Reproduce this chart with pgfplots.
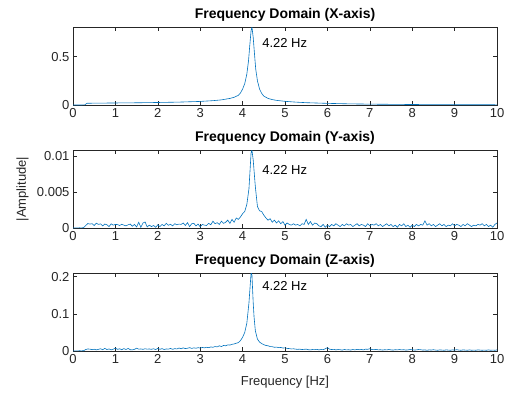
\documentclass[border=0pt]{standalone}
\usepackage{pgfplots}
\pgfplotsset{compat=1.18}
\usepackage{fontspec}
\setmainfont{Liberation Sans}
\definecolor{mblue}{rgb}{0,0.447,0.741}
\definecolor{axgray}{gray}{0.15}
\pgfplotsset{mstyle/.style={
  scale only axis, width=424pt, height=78pt, anchor=south west,
  xmin=0, xmax=10, ymin=0, xtick={0,1,...,10},
  tick align=inside, major tick length=4pt,
  scaled y ticks=false, scaled x ticks=false,
  axis line style={axgray, line width=0.5pt},
  every tick/.style={axgray, line width=0.5pt},
  ticklabel style={font=\fontsize{13}{15}\selectfont, text=axgray},
  /pgf/number format/assume math mode=true,
  title style={font=\bfseries\fontsize{14}{16}\selectfont, yshift=-4pt},
}}
\newcommand{\annfont}{\fontsize{13}{15}\selectfont}
\begin{document}
\begin{tikzpicture}
\path[use as bounding box] (0,0) rectangle (508pt,392pt);
% X axis
\begin{axis}[mstyle, at={(73pt,287pt)}, ymax=0.807, ytick={0,0.5}, yticklabels={0,0.5},
  title={Frequency Domain (X-axis)}]
\addplot[mblue, line width=0.6pt, mark=none] coordinates {
(0,0) (0.1,0) (0.2,0) (0.28,0.002) (0.33,0.018) (0.5,0.019) (1,0.021) (1.5,0.023)
(2,0.026) (2.5,0.030) (3,0.037) (3.3,0.045) (3.5,0.053) (3.7,0.068) (3.8,0.080)
(3.9,0.10) (3.95,0.125) (4.0,0.165) (4.05,0.22) (4.1,0.32) (4.14,0.46) (4.17,0.62)
(4.2,0.77) (4.22,0.807) (4.25,0.70) (4.28,0.53) (4.31,0.37) (4.35,0.25) (4.4,0.165)
(4.45,0.12) (4.5,0.092) (4.6,0.068) (4.7,0.056) (4.8,0.048) (5,0.038) (5.25,0.030)
(5.5,0.024) (6,0.017) (6.5,0.012) (7,0.009) (7.5,0.007) (8,0.005) (8.5,0.004)
(9,0.003) (9.5,0.003) (10,0.002)
};
\node[anchor=west, inner sep=0pt, font=\annfont] at (axis cs:4.46,0.641) {4.22 Hz};
\end{axis}
% Y axis
\begin{axis}[mstyle, at={(73pt,164pt)}, ymax=0.0109, ytick={0,0.005,0.01}, yticklabels={0,0.005,0.01},
  title={Frequency Domain (Y-axis)}, ylabel={|Amplitude|},
  ylabel style={at={(axis description cs:-0.119,0.5)}, anchor=center, font=\fontsize{13}{15}\selectfont, text=axgray}]
\addplot[mblue, line width=0.6pt, mark=none] coordinates {
(0,0) (0.05,0.00002) (0.1,0.00002) (0.15,0.00003) (0.2,0.00002) (0.25,0.00004)
(0.3,0.00035) (0.35,0.00062) (0.4,0.00055) (0.45,0.00060) (0.5,0.00035) (0.55,0.00068)
(0.6,0.00050) (0.65,0.00058) (0.7,0.00030) (0.75,0.00055) (0.8,0.00045) (0.85,0.00020)
(0.9,0.00058) (0.95,0.00040) (1.0,0.00050) (1.05,0.00048) (1.1,0.00035) (1.15,0.00052)
(1.2,0.00040) (1.25,0.00030) (1.3,0.00045) (1.35,0.00055) (1.4,0.00025) (1.45,0.00050)
(1.5,0.00015) (1.55,0.00080) (1.6,0.00010) (1.65,0.00070) (1.7,0.00085) (1.75,0.00015)
(1.8,0.00040) (1.85,0.00020) (1.9,0.00035) (1.95,0.00010) (2.0,0.00045) (2.05,0.00020)
(2.1,0.00050) (2.15,0.00030) (2.2,0.00065) (2.25,0.00038) (2.3,0.00052) (2.35,0.00030)
(2.4,0.00060) (2.45,0.00045) (2.5,0.00055) (2.55,0.00050) (2.6,0.00070) (2.65,0.00035)
(2.7,0.00075) (2.75,0.00020) (2.8,0.00060) (2.85,0.00065) (2.9,0.00030) (2.95,0.00055)
(3.0,0.00015) (3.05,0.00050) (3.1,0.00040) (3.15,0.00035) (3.2,0.00065) (3.25,0.00045)
(3.3,0.00095) (3.35,0.00060) (3.4,0.00075) (3.45,0.00050) (3.5,0.00095) (3.55,0.00065)
(3.6,0.00080) (3.65,0.00110) (3.7,0.00065) (3.75,0.00120) (3.8,0.00080) (3.85,0.00140)
(3.9,0.00120) (3.95,0.00155) (4.0,0.00200) (4.05,0.00230) (4.1,0.00330) (4.15,0.00550)
(4.2,0.0105) (4.22,0.0109) (4.25,0.0095) (4.3,0.0058) (4.35,0.0030) (4.4,0.0024)
(4.45,0.0023) (4.5,0.0018) (4.55,0.0014) (4.6,0.0011) (4.65,0.0013) (4.7,0.0008)
(4.75,0.0011) (4.8,0.0007) (4.85,0.0010) (4.9,0.0006) (4.95,0.0009) (5.0,0.0004)
(5.05,0.0007) (5.1,0.0005) (5.15,0.0004) (5.2,0.0006) (5.25,0.0004) (5.3,0.0005)
(5.35,0.0003) (5.4,0.0006) (5.45,0.0005) (5.5,0.0012) (5.55,0.0005) (5.6,0.0009)
(5.65,0.0004) (5.7,0.0007) (5.75,0.0006) (5.8,0.0003) (5.85,0.0002) (5.9,0.0005)
(5.95,0.0001) (6.0,0.0004) (6.05,0.0002) (6.1,0.0005) (6.15,0.0003) (6.2,0.0006)
(6.25,0.0004) (6.3,0.0002) (6.35,0.0005) (6.4,0.0003) (6.45,0.0006) (6.5,0.0004)
(6.55,0.0005) (6.6,0.0002) (6.65,0.0004) (6.7,0.0006) (6.75,0.0003) (6.8,0.0005)
(6.85,0.0004) (6.9,0.0002) (6.95,0.0006) (7.0,0.0003) (7.05,0.0005) (7.1,0.0004)
(7.15,0.0006) (7.2,0.0003) (7.25,0.0005) (7.3,0.0002) (7.35,0.0004) (7.4,0.0006)
(7.45,0.0003) (7.5,0.0005) (7.55,0.0002) (7.6,0.0004) (7.65,0.0001) (7.7,0.0005)
(7.75,0.0003) (7.8,0.0006) (7.85,0.0002) (7.9,0.0004) (7.95,0.0001) (8.0,0.0004)
(8.05,0.0002) (8.1,0.0005) (8.15,0.0003) (8.2,0.0005) (8.25,0.0004) (8.3,0.0010)
(8.35,0.0004) (8.4,0.0006) (8.45,0.0003) (8.5,0.0005) (8.55,0.0002) (8.6,0.0004)
(8.65,0.0006) (8.7,0.0003) (8.75,0.0005) (8.8,0.0002) (8.85,0.0004) (8.9,0.0003)
(8.95,0.0006) (9.0,0.0003) (9.05,0.0005) (9.1,0.0004) (9.15,0.0002) (9.2,0.0005)
(9.25,0.0003) (9.3,0.0006) (9.35,0.0004) (9.4,0.0002) (9.45,0.0004) (9.5,0.0003)
(9.55,0.0005) (9.6,0.0004) (9.65,0.0006) (9.7,0.0003) (9.75,0.0005) (9.8,0.0002)
(9.85,0.0004) (9.9,0.0001) (9.95,0.0005) (10.0,0.0007)
};
\node[anchor=west, inner sep=0pt, font=\annfont] at (axis cs:4.46,0.0081) {4.22 Hz};
\end{axis}
% Z axis
\begin{axis}[mstyle, at={(73pt,41pt)}, ymax=0.21, ytick={0,0.1,0.2}, yticklabels={0,0.1,0.2},
  title={Frequency Domain (Z-axis)}, xlabel={Frequency [Hz]},
  xlabel style={at={(axis description cs:0.5,-0.397)}, anchor=center, font=\fontsize{13}{15}\selectfont, text=axgray}]
\addplot[mblue, line width=0.6pt, mark=none] coordinates {
(0,0) (0.05,0.0005) (0.1,0.0004) (0.15,0.0006) (0.2,0.0005) (0.25,0.0007)
(0.3,0.0040) (0.35,0.0055) (0.4,0.0050) (0.45,0.0035) (0.5,0.0048) (0.55,0.0030)
(0.6,0.0045) (0.65,0.0060) (0.7,0.0035) (0.75,0.0070) (0.8,0.0040) (0.85,0.0055)
(0.9,0.0030) (0.95,0.0050) (1.0,0.0075) (1.05,0.0045) (1.1,0.0060) (1.15,0.0035)
(1.2,0.0065) (1.25,0.0040) (1.3,0.0070) (1.35,0.0035) (1.4,0.0030) (1.45,0.0045)
(1.5,0.0075) (1.55,0.0050) (1.6,0.0055) (1.65,0.0045) (1.7,0.0060) (1.75,0.0050)
(1.8,0.0055) (1.85,0.0045) (1.9,0.0060) (1.95,0.0040) (2.0,0.0070) (2.05,0.0045)
(2.1,0.0065) (2.15,0.0040) (2.2,0.0055) (2.25,0.0050) (2.3,0.0070) (2.35,0.0045)
(2.4,0.0065) (2.45,0.0055) (2.5,0.0080) (2.55,0.0060) (2.6,0.0085) (2.65,0.0065)
(2.7,0.0075) (2.75,0.0090) (2.8,0.0070) (2.85,0.0085) (2.9,0.0075) (2.95,0.0090)
(3.0,0.0080) (3.05,0.0095) (3.1,0.0085) (3.15,0.0100) (3.2,0.0090) (3.25,0.0110)
(3.3,0.0100) (3.35,0.0120) (3.4,0.0110) (3.45,0.0140) (3.5,0.0120) (3.55,0.0150)
(3.6,0.0140) (3.65,0.0165) (3.7,0.0160) (3.75,0.0180) (3.8,0.0190) (3.85,0.0210)
(3.9,0.0225) (3.95,0.0280) (4.0,0.0370) (4.05,0.0500) (4.1,0.0750) (4.15,0.1300)
(4.2,0.2100) (4.22,0.2050) (4.25,0.1300) (4.27,0.0920) (4.3,0.0550) (4.35,0.0320)
(4.4,0.0240) (4.45,0.0200) (4.5,0.0170) (4.55,0.0150) (4.6,0.0140) (4.65,0.0120)
(4.7,0.0115) (4.75,0.0100) (4.8,0.0105) (4.85,0.0090) (4.9,0.0095) (4.95,0.0080)
(5.0,0.0085) (5.05,0.0070) (5.1,0.0065) (5.15,0.0055) (5.2,0.0060) (5.25,0.0050)
(5.3,0.0045) (5.35,0.0050) (5.4,0.0040) (5.45,0.0045) (5.5,0.0050) (5.55,0.0035)
(5.6,0.0030) (5.65,0.0040) (5.7,0.0035) (5.75,0.0045) (5.8,0.0030) (5.85,0.0040)
(5.9,0.0035) (5.95,0.0060) (6.0,0.0090) (6.05,0.0050) (6.1,0.0040) (6.15,0.0045)
(6.2,0.0030) (6.25,0.0040) (6.3,0.0035) (6.35,0.0025) (6.4,0.0040) (6.45,0.0030)
(6.5,0.0035) (6.55,0.0025) (6.6,0.0040) (6.65,0.0030) (6.7,0.0045) (6.75,0.0035)
(6.8,0.0040) (6.85,0.0030) (6.9,0.0050) (6.95,0.0045) (7.0,0.0060) (7.05,0.0040)
(7.1,0.0035) (7.15,0.0045) (7.2,0.0030) (7.25,0.0035) (7.3,0.0025) (7.35,0.0035)
(7.4,0.0030) (7.45,0.0040) (7.5,0.0030) (7.55,0.0025) (7.6,0.0035) (7.65,0.0030)
(7.7,0.0040) (7.75,0.0030) (7.8,0.0035) (7.85,0.0025) (7.9,0.0030) (7.95,0.0040)
(8.0,0.0035) (8.05,0.0025) (8.1,0.0030) (8.15,0.0040) (8.2,0.0035) (8.25,0.0025)
(8.3,0.0030) (8.35,0.0020) (8.4,0.0030) (8.45,0.0025) (8.5,0.0035) (8.55,0.0025)
(8.6,0.0020) (8.65,0.0030) (8.7,0.0025) (8.75,0.0020) (8.8,0.0030) (8.85,0.0025)
(8.9,0.0020) (8.95,0.0030) (9.0,0.0025) (9.05,0.0035) (9.1,0.0025) (9.15,0.0020)
(9.2,0.0030) (9.25,0.0025) (9.3,0.0020) (9.35,0.0030) (9.4,0.0020) (9.45,0.0025)
(9.5,0.0020) (9.55,0.0030) (9.6,0.0025) (9.65,0.0020) (9.7,0.0025) (9.75,0.0020)
(9.8,0.0030) (9.85,0.0020) (9.9,0.0025) (9.95,0.0020) (10.0,0.0030)
};
\node[anchor=west, inner sep=0pt, font=\annfont] at (axis cs:4.46,0.175) {4.22 Hz};
\end{axis}
\end{tikzpicture}
\end{document}
